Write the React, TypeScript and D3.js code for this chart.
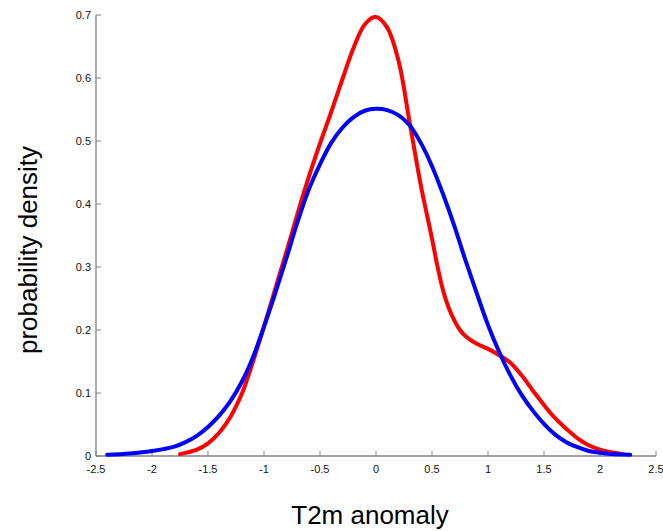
import React from "react";
import * as d3 from "d3";

const blueX = [-2.4, -2.2, -2.0, -1.8, -1.7, -1.6, -1.5, -1.4, -1.3, -1.2, -1.1, -1.0, -0.9, -0.8, -0.7, -0.6, -0.5, -0.4, -0.3, -0.2, -0.1, 0, 0.1, 0.2, 0.3, 0.4, 0.5, 0.6, 0.7, 0.8, 0.9, 1.0, 1.1, 1.2, 1.3, 1.4, 1.5, 1.6, 1.7, 1.8, 1.9, 2.0, 2.1, 2.27];
const blueY = [0.002, 0.004, 0.008, 0.015, 0.022, 0.032, 0.046, 0.064, 0.087, 0.117, 0.156, 0.205, 0.258, 0.314, 0.372, 0.423, 0.463, 0.497, 0.521, 0.538, 0.548, 0.551, 0.549, 0.541, 0.525, 0.497, 0.46, 0.415, 0.365, 0.31, 0.258, 0.208, 0.165, 0.128, 0.097, 0.072, 0.051, 0.034, 0.022, 0.014, 0.008, 0.005, 0.003, 0.002];

const redX = [-1.75, -1.6, -1.5, -1.4, -1.3, -1.2, -1.1, -1.0, -0.9, -0.8, -0.7, -0.6, -0.5, -0.4, -0.3, -0.2, -0.1, 0, 0.1, 0.2, 0.3, 0.4, 0.5, 0.55, 0.6, 0.65, 0.7, 0.75, 0.8, 0.9, 1.0, 1.1, 1.2, 1.3, 1.4, 1.5, 1.6, 1.7, 1.8, 1.9, 2.0, 2.1, 2.2];
const redY = [0.003, 0.01, 0.02, 0.037, 0.062, 0.098, 0.149, 0.206, 0.265, 0.324, 0.385, 0.443, 0.496, 0.546, 0.598, 0.648, 0.685, 0.697, 0.68, 0.628, 0.53, 0.43, 0.345, 0.3, 0.262, 0.235, 0.215, 0.2, 0.19, 0.178, 0.17, 0.16, 0.148, 0.128, 0.104, 0.081, 0.06, 0.043, 0.028, 0.017, 0.01, 0.006, 0.003];

const xTicks = [-2.5, -2, -1.5, -1, -0.5, 0, 0.5, 1, 1.5, 2, 2.5];
const yTicks = [0, 0.1, 0.2, 0.3, 0.4, 0.5, 0.6, 0.7];

const W = 663, H = 531;
const left = 96, right = 656, top = 15, bottom = 456;
const axisColor = "#808080";
const font = "'Liberation Sans', Arial, sans-serif";

export default function App() {
  const x = d3.scaleLinear().domain([-2.5, 2.5]).range([left, right]);
  const y = d3.scaleLinear().domain([0, 0.7]).range([bottom, top]);

  const line = d3.line<[number, number]>()
    .x(d => x(d[0]))
    .y(d => y(d[1]))
    .curve(d3.curveCatmullRom.alpha(0.5));

  const red = redX.map((v, i) => [v, redY[i]] as [number, number]);
  const blue = blueX.map((v, i) => [v, blueY[i]] as [number, number]);

  return (
    <svg width={W} height={H} style={{position: "absolute", left: 0, top: 0, background: "#fff"}}>
      {/* axes */}
      <line x1={left} x2={right} y1={bottom} y2={bottom} stroke={axisColor} strokeWidth={1.3}/>
      <line x1={left} x2={left} y1={bottom} y2={top} stroke={axisColor} strokeWidth={1.3}/>
      {xTicks.map(t => (
        <g key={"x" + t}>
          <line x1={x(t)} x2={x(t)} y1={bottom} y2={bottom - 5} stroke={axisColor} strokeWidth={1}/>
          <text x={x(t)} y={bottom + 17} textAnchor="middle" fontFamily={font} fontSize={11} fill="#111">{t}</text>
        </g>
      ))}
      {yTicks.map(t => (
        <g key={"y" + t}>
          <line x1={left} x2={left + 5} y1={y(t)} y2={y(t)} stroke={axisColor} strokeWidth={1}/>
          <text x={left - 5} y={y(t) + 4} textAnchor="end" fontFamily={font} fontSize={11} fill="#111">{t}</text>
        </g>
      ))}

      <path d={line(red) || ""} fill="none" stroke="#ff0000" strokeWidth={4} strokeLinecap="round"/>
      <path d={line(blue) || ""} fill="none" stroke="#0000ff" strokeWidth={4} strokeLinecap="round"/>

      <text x={370} y={524} textAnchor="middle" fontFamily={font} fontSize={26} fill="#000">T2m anomaly</text>
      <text transform="translate(37,250) rotate(-90)" textAnchor="middle" fontFamily={font} fontSize={26} fill="#000">probability density</text>
    </svg>
  );
}
